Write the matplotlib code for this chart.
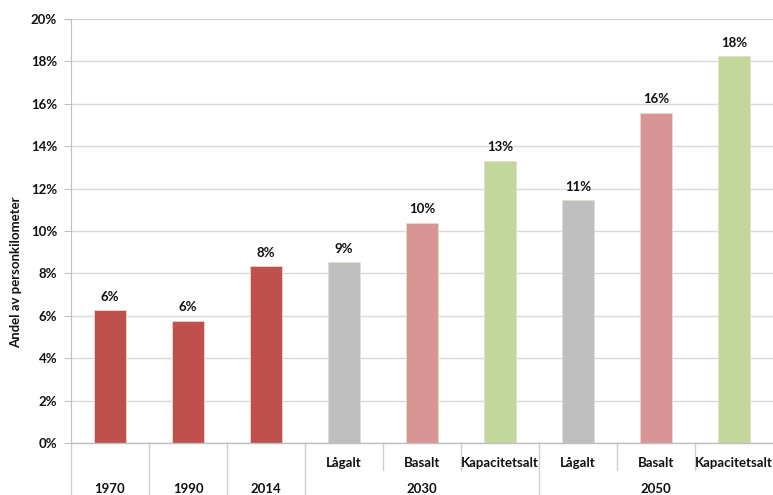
import matplotlib
matplotlib.use("Agg")
import matplotlib.pyplot as plt
from matplotlib.transforms import blended_transform_factory

plt.rcParams['font.family'] = ['Lato', 'DejaVu Sans']
plt.rcParams['font.weight'] = 'bold'

# Share of passenger-kilometres per year / scenario
groups = ["1970", "1990", "2014", "2030", "2050"]
scenarios = ["", "", "", "Lågalt", "Basalt", "Kapacitetsalt", "Lågalt", "Basalt", "Kapacitetsalt"]
group_of_bar = [0, 1, 2, 3, 3, 3, 4, 4, 4]
values = [6.27, 5.77, 8.35, 8.52, 10.39, 13.32, 11.46, 15.57, 18.25]
colors = ["#C0504D", "#C0504D", "#C0504D", "#BFBFBF", "#D99594", "#C3D69B",
          "#BFBFBF", "#D99594", "#C3D69B"]
yticks = [0, 2, 4, 6, 8, 10, 12, 14, 16, 18, 20]

fig = plt.figure(figsize=(7.73, 4.95), dpi=100)
ax = fig.add_axes([71 / 773, 52 / 495, 702 / 773, 424 / 495])

x = list(range(len(values)))
ax.bar(x, values, width=0.41, color=colors, edgecolor="#E6DCC8", linewidth=0.6, zorder=3)

for xi, v in zip(x, values):
    ax.text(xi, v + 0.35, f"{v:.0f}%", ha="center", va="bottom",
            fontsize=9.5, fontweight="bold", color="#111111", zorder=4)

ax.set_xlim(-0.5, len(values) - 0.5)
ax.set_ylim(0, 20)
ax.set_yticks(yticks)
ax.set_yticklabels([f"{t}%" for t in yticks], fontsize=9.5, fontweight="bold", color="#111111")
ax.yaxis.grid(True, color="#D9D9D9", linewidth=1.0, zorder=0)
ax.tick_params(axis="y", length=5, width=0.8, color="#BFBFBF", pad=5)
ax.set_xticks([])

for side in ["top", "right", "bottom"]:
    ax.spines[side].set_visible(False)
ax.spines["left"].set_color("#BFBFBF")
ax.spines["left"].set_bounds(0, 20)

# Multi-level category axis
tr = blended_transform_factory(ax.transData, ax.transAxes)
y_row1 = -20 / 424
y_row2 = -46 / 424
y_short = -27 / 424
y_full = -52 / 424

ax.plot([-0.5, len(values) - 0.5], [0, 0], transform=tr, color="#BFBFBF",
        linewidth=1.0, clip_on=False, zorder=5)

for i in range(len(values)):
    xb = i - 0.5
    if i == 0 or group_of_bar[i] != group_of_bar[i - 1]:
        yb = y_full
    else:
        yb = y_short
    ax.plot([xb, xb], [0, yb], transform=tr, color="#D0D0D0", linewidth=1.0, clip_on=False)

for xi, s in zip(x, scenarios):
    if s:
        ax.text(xi, y_row1, s, transform=tr, ha="center", va="center",
                fontsize=9.5, fontweight="bold", color="#111111")

for g, name in enumerate(groups):
    members = [i for i, gb in enumerate(group_of_bar) if gb == g]
    xc = (members[0] + members[-1]) / 2
    ax.text(xc, y_row2, name, transform=tr, ha="center", va="center",
            fontsize=9.5, fontweight="bold", color="#111111")

fig.text(16 / 773, 1 - 272 / 495, "Andel av personkilometer", rotation=90,
         ha="center", va="center", fontsize=9.5, fontweight="bold", color="#111111")

fig.savefig("out.png", dpi=100)
